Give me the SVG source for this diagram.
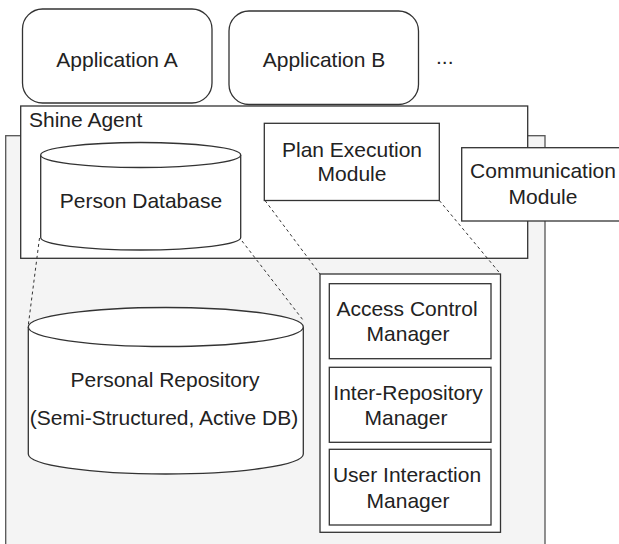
<svg xmlns="http://www.w3.org/2000/svg" width="619" height="544" viewBox="0 0 619 544">
<style>
.box{fill:#fff;stroke:#333;stroke-width:1.3}
.bg{fill:#f4f4f4;stroke:#555;stroke-width:1.3}
.t{font-family:"Liberation Sans",Arial,sans-serif;font-size:21px;fill:#222;text-anchor:middle}
.tl{text-anchor:start}
.dash{fill:none;stroke:#333;stroke-width:1;stroke-dasharray:3 3}
</style>
<rect width="619" height="544" fill="#fff"/>
<g id="app-a"><rect class="box" x="22.5" y="9" width="189.5" height="94" rx="20"/><text class="t" x="117" y="67">Application A</text></g>
<g id="app-b"><rect class="box" x="229" y="11" width="189.5" height="93.5" rx="20"/><text class="t" x="324" y="67">Application B</text></g>
<g id="ellipsis"><text class="t tl" x="436" y="64">...</text></g>
<g id="background"><rect class="bg" x="5.7" y="135.7" width="539.3" height="420"/></g>
<g id="shine-agent"><rect class="box" x="20.7" y="106" width="507" height="152.3"/><text class="t tl" x="29" y="127.3">Shine Agent</text></g>
<g id="person-db">
<path class="box" d="M40.7,155 V237.5 A100,12.5 0 0 0 240.7,237.5 V155"/>
<ellipse class="box" cx="140.7" cy="155" rx="100" ry="12.5"/>
<text class="t" x="141" y="208.3">Person Database</text></g>
<g id="plan-exec"><rect class="box" x="264.3" y="123.3" width="175" height="77.2"/><text class="t" x="352" y="156.7">Plan Execution</text><text class="t" x="352" y="181">Module</text></g>
<g id="comm"><rect class="box" x="461.7" y="147.7" width="165" height="73.3"/><text class="t" x="543" y="178.3">Communication</text><text class="t" x="543" y="204.3">Module</text></g>
<g id="connectors">
<line class="dash" x1="39.5" y1="238" x2="28.3" y2="325"/>
<line class="dash" x1="242" y1="241" x2="303" y2="320"/>
<line class="dash" x1="265" y1="200.5" x2="320" y2="274"/>
<line class="dash" x1="439.3" y1="200.5" x2="500.5" y2="274"/>
</g>
<g id="personal-repo">
<path class="box" d="M28.3,327 V454 A137.5,20 0 0 0 303.3,454 V327"/>
<ellipse class="box" cx="165.8" cy="327" rx="137.5" ry="19.5"/>
<text class="t" x="165" y="387.3">Personal Repository</text>
<text class="t" x="164" y="425">(Semi-Structured, Active DB)</text></g>
<g id="managers"><rect class="box" x="320" y="274" width="180.5" height="258.3"/></g>
<g id="access-control"><rect class="box" x="329.3" y="283.7" width="161.7" height="75"/><text class="t" x="407" y="315.7">Access Control</text><text class="t" x="408" y="341.3">Manager</text></g>
<g id="inter-repo"><rect class="box" x="329.3" y="367.3" width="161.7" height="75"/><text class="t" x="408" y="400">Inter-Repository</text><text class="t" x="406" y="425">Manager</text></g>
<g id="user-interaction"><rect class="box" x="329.3" y="449.3" width="161.7" height="75.7"/><text class="t" x="407" y="481.7">User Interaction</text><text class="t" x="408" y="508.3">Manager</text></g>
</svg>
